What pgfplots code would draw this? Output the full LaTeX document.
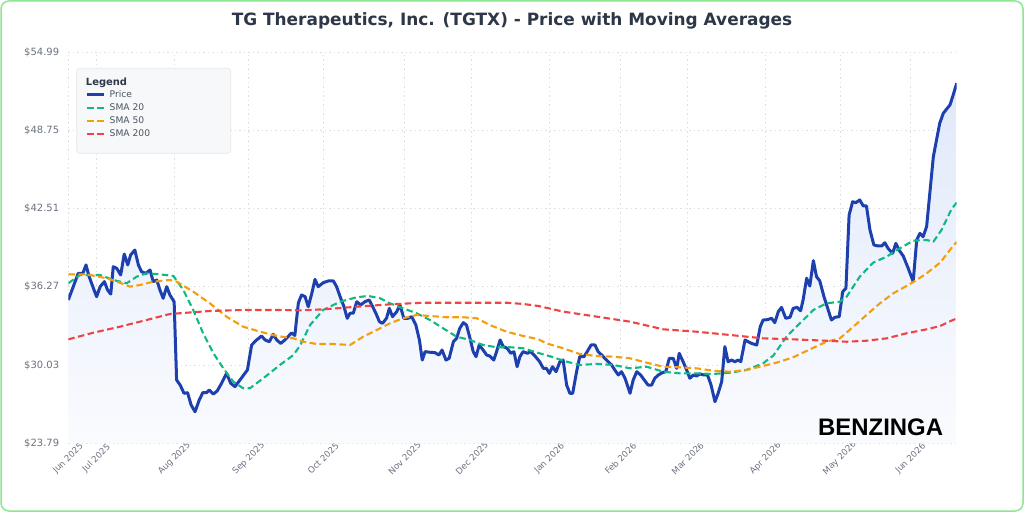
\documentclass[border=0pt]{standalone}
\usepackage{fontspec}
\setmainfont{DejaVu Sans}
\newfontfamily\logofont{Liberation Sans}
\usepackage{pgfplots}
\pgfplotsset{compat=1.18}
\usepackage{pgfplotstable}

\definecolor{pricec}{RGB}{30,64,175}
\definecolor{sma20c}{RGB}{16,185,129}
\definecolor{sma50c}{RGB}{245,158,11}
\definecolor{sma200c}{RGB}{239,68,68}
\definecolor{titlec}{RGB}{45,55,72}
\definecolor{tickc}{RGB}{107,114,128}
\definecolor{legtext}{RGB}{75,85,99}
\definecolor{gridc}{RGB}{220,223,228}
\definecolor{borderc}{RGB}{144,230,144}
\definecolor{legfill}{RGB}{247,248,249}
\definecolor{legdraw}{RGB}{230,232,235}
\definecolor{filltop}{RGB}{224,233,250}
\definecolor{fillbot}{RGB}{250,251,254}

\pgfplotstableread{
x y
0 35.23
1.4 36.29
2.8 37.35
4.1 37.35
5.0 38.02
5.9 37.08
7.1 36.16
8.0 35.49
9.0 36.29
10.2 36.69
11.1 36.02
12.0 35.70
12.7 37.88
13.7 37.75
14.8 37.22
15.8 38.89
16.8 38.02
17.6 38.81
18.8 39.21
19.8 38.02
20.7 37.48
21.9 37.35
23.1 37.62
24.0 36.69
25.0 36.82
25.9 36.02
26.8 35.36
27.8 36.29
28.7 35.63
29.9 35.09
30.6 28.85
31.6 28.45
32.7 27.79
33.7 27.84
34.7 26.86
35.8 26.32
37.0 27.26
38.0 27.84
39.1 27.84
39.8 28.05
41.0 27.73
42.1 27.99
43.3 28.59
44.7 29.38
45.9 28.59
47.1 28.32
48.5 28.85
50.6 29.65
51.8 31.64
53.2 32.04
54.6 32.36
55.6 32.04
56.8 31.90
57.9 32.49
58.9 32.04
60.0 31.77
61.2 32.04
62.4 32.40
63.1 32.60
64.0 32.40
65.0 35.00
65.9 35.63
66.9 35.49
67.8 34.69
68.8 35.76
69.7 36.87
70.6 36.29
72.0 36.60
73.4 36.74
74.9 36.74
75.8 36.29
76.8 35.49
77.9 34.69
78.8 33.77
79.6 34.17
80.5 34.17
81.5 35.09
82.6 34.83
83.8 35.09
85.0 35.23
86.0 34.69
86.9 34.17
87.9 33.50
88.8 33.37
89.9 33.77
90.7 34.56
91.6 33.90
92.8 34.30
93.7 34.83
94.8 33.77
96.0 33.77
97.0 33.90
98.2 33.23
99.2 32.04
100.0 30.44
100.8 31.11
102.2 31.06
103.6 31.03
104.7 30.84
105.6 31.24
106.7 30.44
107.6 30.58
108.8 31.90
109.7 32.17
110.6 32.97
111.6 33.42
112.5 33.23
113.5 32.17
114.4 31.11
115.2 30.71
116.1 31.64
117.2 31.24
118.2 30.84
119.1 30.76
120.2 30.44
121.0 31.11
122.0 32.04
122.9 31.51
124.0 31.38
125.0 30.98
125.9 31.11
126.8 29.91
127.6 30.71
128.5 31.11
129.7 30.98
130.6 31.11
131.8 30.78
133.2 30.30
134.2 29.78
135.1 29.78
135.9 29.38
136.8 29.91
137.8 29.51
138.9 30.31
139.8 30.44
140.8 28.45
141.7 27.79
142.5 27.79
143.6 29.51
144.5 30.71
145.7 30.71
146.6 31.11
147.7 31.64
148.8 31.64
149.7 31.11
150.7 30.84
151.6 30.58
152.5 30.31
153.5 30.05
154.4 29.65
155.4 29.25
156.3 29.51
157.3 28.99
158.7 27.79
159.6 28.85
160.6 29.51
161.7 29.25
162.6 28.90
163.8 28.45
164.8 28.45
165.7 28.99
166.7 29.25
167.8 29.43
168.8 29.51
169.8 30.58
170.9 30.58
171.9 29.78
172.6 30.98
173.7 30.31
174.7 29.65
175.6 28.99
176.6 29.25
177.5 29.17
178.4 29.33
179.6 29.25
180.6 29.25
181.6 28.45
182.7 27.12
183.6 27.79
184.6 28.72
185.5 31.51
186.4 30.31
187.4 30.44
188.3 30.31
189.3 30.44
190.0 30.31
191.2 32.04
192.1 31.90
193.0 31.77
194.5 31.64
195.5 33.10
196.3 33.63
197.5 33.66
198.7 33.77
199.6 33.42
200.6 34.30
201.5 34.64
202.7 33.77
203.9 33.85
204.8 34.56
205.9 34.64
206.9 34.37
207.6 35.23
208.6 36.96
209.5 36.34
210.5 38.36
211.4 37.08
212.3 36.76
213.5 35.49
214.7 34.43
215.6 33.63
216.6 33.85
217.8 33.90
218.8 35.89
219.7 36.16
220.6 42.00
221.6 43.06
222.5 42.98
223.6 43.20
224.6 42.72
225.5 42.72
226.5 40.80
227.6 39.61
228.8 39.53
229.8 39.53
230.7 39.79
231.6 39.34
232.9 38.95
233.8 39.74
234.7 39.21
235.9 38.73
237.3 37.75
238.7 36.69
239.7 40.01
240.6 40.54
241.5 40.27
242.5 41.07
243.4 43.73
244.4 46.65
245.3 47.98
246.2 49.31
247.2 50.10
248.3 50.50
249.1 50.77
250.0 51.56
251.0 52.50
}\pricetab

\pgfplotstableread{
x y
0 36.56
3.3 37.22
9.0 37.22
12.7 36.82
16.5 36.56
19.3 37.08
22.1 37.35
25.9 37.27
29.7 37.14
32.5 36.02
35.3 34.43
38.1 32.57
41.0 30.98
43.8 29.78
46.6 28.72
49.4 28.19
51.3 28.19
55.1 28.99
59.8 30.05
63.6 30.84
65.5 31.60
68.3 33.23
72.0 34.43
76.8 35.09
81.5 35.44
84.7 35.55
88.1 35.36
90.9 34.96
94.6 34.56
98.4 34.17
102.2 33.63
105.9 32.97
109.7 32.30
113.5 32.04
117.2 31.64
121.0 31.46
124.8 31.46
128.5 31.38
132.3 31.05
136.0 30.75
140.8 30.31
144.5 30.05
149.3 30.13
154.0 30.05
158.7 29.78
163.4 29.91
168.1 29.51
172.8 29.38
177.5 29.38
182.2 29.33
186.9 29.43
191.6 29.65
196.3 30.18
199.2 30.80
202.9 32.30
206.7 33.37
210.5 34.43
214.2 34.96
218.0 35.09
219.9 35.49
223.6 37.08
227.4 38.20
231.2 38.68
234.9 39.34
238.7 39.95
242.5 40.01
244.4 39.87
246.7 40.80
249.5 42.45
251.0 43.00
}\smatwenty

\pgfplotstableread{
x y
0 37.27
5.2 37.27
10.8 36.96
14.6 36.60
17.4 36.29
20.3 36.42
24.0 36.69
28.7 36.82
30.6 36.69
35.3 35.89
40.0 34.96
44.7 33.90
49.4 33.10
54.2 32.70
58.9 32.36
63.6 32.17
66.4 31.90
70.2 31.72
74.9 31.72
79.6 31.64
83.3 32.30
87.1 32.83
90.9 33.37
94.6 33.77
98.4 34.03
102.2 33.95
106.9 33.85
111.6 33.85
115.4 33.77
119.1 33.23
123.8 32.70
128.5 32.36
132.8 32.10
135.1 31.77
139.8 31.38
144.5 30.92
149.3 30.76
154.0 30.71
158.7 30.58
163.4 30.23
168.1 29.91
172.8 29.86
177.5 29.78
182.2 29.59
186.9 29.51
191.6 29.65
196.3 29.97
200.1 30.23
204.8 30.66
209.5 31.29
214.2 31.90
218.0 32.17
221.8 33.10
225.5 34.03
229.3 34.96
233.1 35.76
236.8 36.34
239.7 36.82
242.5 37.35
246.3 38.20
249.8 39.47
251.0 39.85
}\smafifty

\pgfplotstableread{
x y
0 32.09
7.1 32.62
14.6 33.10
22.1 33.63
28.7 34.11
33.4 34.21
40.0 34.35
49.4 34.43
58.9 34.43
65.5 34.40
72.0 34.48
81.5 34.69
90.9 34.88
100.3 35.01
109.7 35.01
119.1 35.01
123.8 35.01
128.5 34.91
132.8 34.75
139.8 34.30
149.3 33.90
158.7 33.50
168.1 32.89
177.5 32.70
186.9 32.44
196.3 32.17
204.8 32.09
214.2 31.98
219.9 31.90
225.5 31.98
231.2 32.17
236.8 32.57
242.5 32.89
246.3 33.15
249.5 33.58
251.0 33.75
}\smatwohundred

\begin{document}
\begin{tikzpicture}
\useasboundingbox (0,0) rectangle (1024bp,512bp);
\fill[white] (0,0) rectangle (1024bp,512bp);
\draw[borderc, line width=1.5bp, rounded corners=8bp] (1bp,1bp) rectangle (1023bp,511bp);
\node[anchor=base, inner sep=0pt, text=titlec, font=\fontsize{17}{20}\selectfont\bfseries] at (512bp,486bp) {TG Therapeutics, Inc. (TGTX) - Price with Moving Averages};
\begin{axis}[
  at={(68.3bp,68.5bp)}, anchor=south west,
  width=888.4bp, height=391.5bp, scale only axis,
  xmin=0, xmax=251, ymin=23.79, ymax=54.99,
  axis line style={draw=none},
  major tick length=0pt,
  xtick={0,8,30,51,72,95,114,136,156,175,197,218,238},
  xticklabels={Jun 2025,Jul 2025,Aug 2025,Sep 2025,Oct 2025,Nov 2025,Dec 2025,Jan 2026,Feb 2026,Mar 2026,Apr 2026,May 2026,Jun 2026},
  ytick={23.79,30.03,36.27,42.51,48.75,54.99},
  yticklabels={\$23.79,\$30.03,\$36.27,\$42.51,\$48.75,\$54.99},
  xmajorgrids, ymajorgrids,
  grid style={gridc, line width=0.8bp, dash pattern=on 1.5bp off 3bp},
  tick label style={text=tickc},
  yticklabel style={font=\fontsize{10}{12}\selectfont, inner sep=0pt, xshift=-9bp},
  xticklabel style={font=\fontsize{8.7}{10}\selectfont, yshift=-15bp, rotate=45, anchor=center, inner sep=0pt},
  legend style={at={(axis description cs:0,1)}, anchor=north west, xshift=17.4bp, yshift=-36.5bp,
    draw=none, fill=none, inner sep=0pt, outer sep=0pt, column sep=4.4bp, row sep=0pt,
    font=\fontsize{9.2}{11}\selectfont, text=legtext,
    nodes={inner xsep=0pt, inner ysep=2.25bp, text height=6.5bp, text depth=2bp}},
  legend cell align=left,
  legend image code/.code={\draw[#1] (0bp,0bp) -- (16.6bp,0bp);},
]
\addplot[draw=none, top color=filltop, bottom color=fillbot, forget plot] table[x=x,y=y] {\pricetab} -- (axis cs:251,23.79) -- (axis cs:0,23.79) -- cycle;
\addplot[draw=pricec, line width=3bp, line join=round] table[x=x,y=y] {\pricetab};
\addlegendentry{Price}
\addplot[draw=sma20c, line width=2.1bp, dash pattern=on 6.5bp off 3.5bp, line join=round] table[x=x,y=y] {\smatwenty};
\addlegendentry{SMA 20}
\addplot[draw=sma50c, line width=2.1bp, dash pattern=on 6.5bp off 3.5bp, line join=round] table[x=x,y=y] {\smafifty};
\addlegendentry{SMA 50}
\addplot[draw=sma200c, line width=2.1bp, dash pattern=on 6.5bp off 3.5bp, line join=round] table[x=x,y=y] {\smatwohundred};
\addlegendentry{SMA 200}
\draw[legdraw, fill=legfill, rounded corners=3bp, line width=0.6bp] (axis description cs:0.00946,0.95837) rectangle (axis description cs:0.1828,0.74125);
\node[anchor=base west, inner sep=0pt, text=titlec, font=\fontsize{10}{12}\selectfont\bfseries] at (axis description cs:0.01959,0.91315) {Legend};
\end{axis}
\node[anchor=base west, inner sep=0pt, font=\logofont\fontsize{24}{24}\selectfont\bfseries] at (818bp,76bp) {BENZINGA};
\end{tikzpicture}
\end{document}
